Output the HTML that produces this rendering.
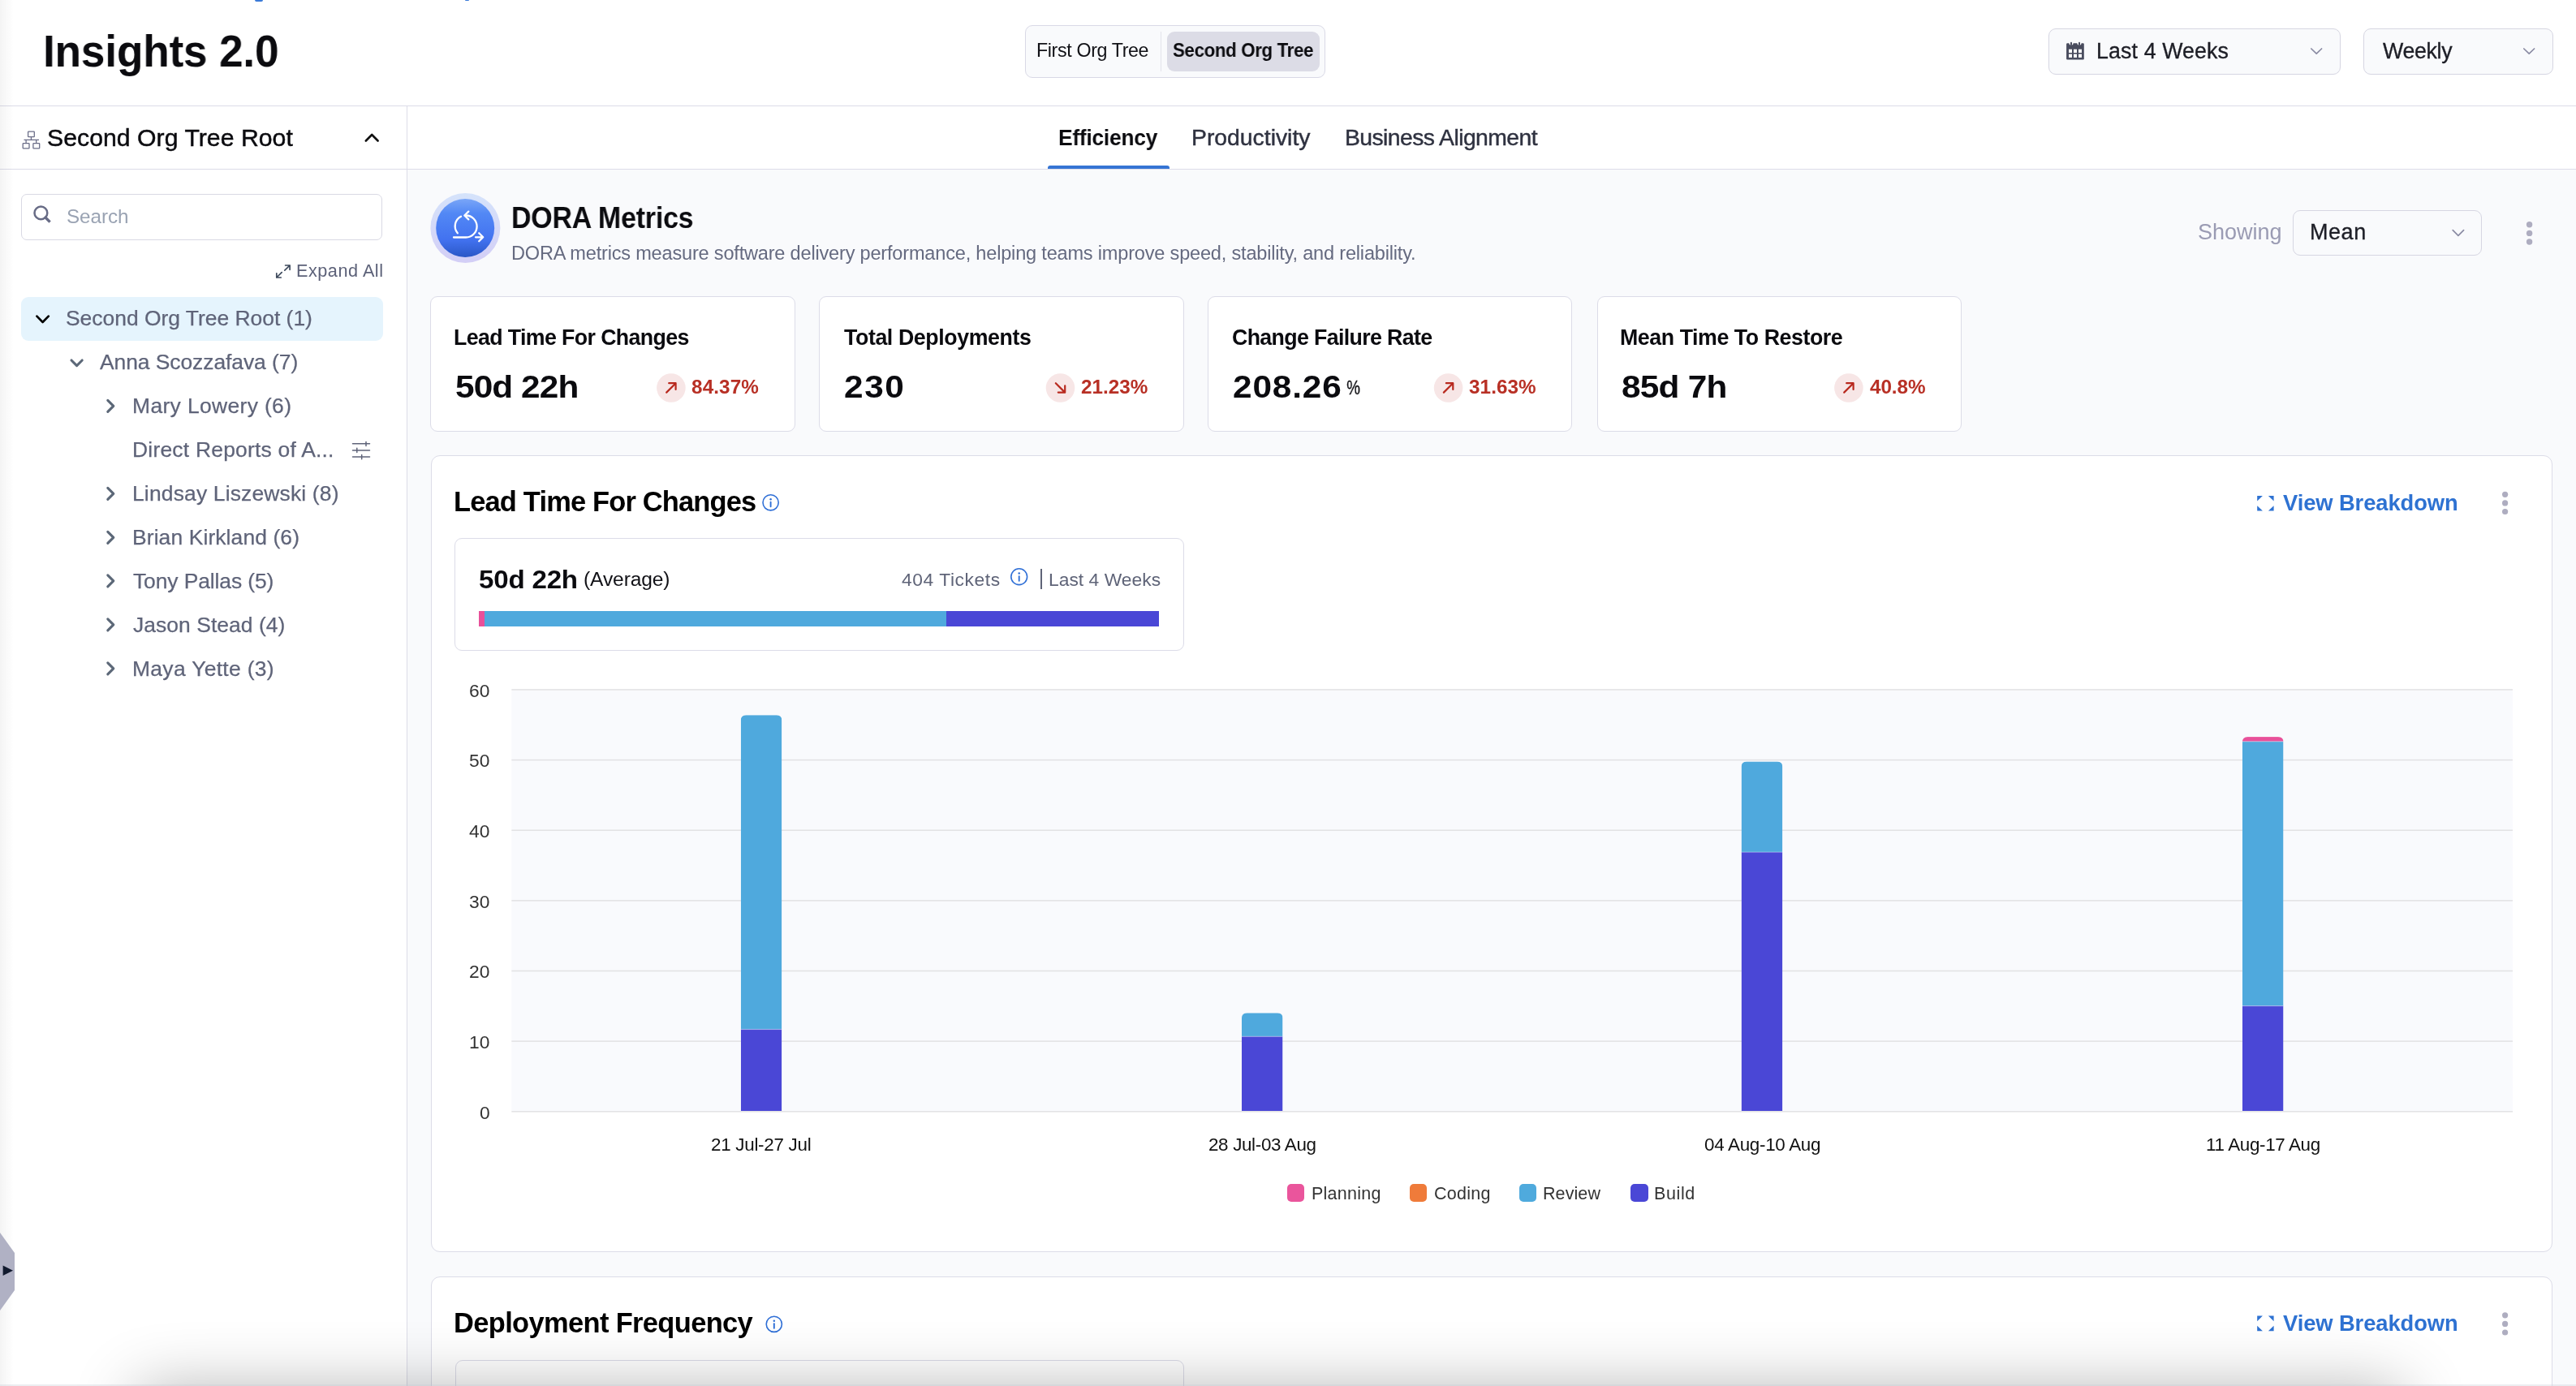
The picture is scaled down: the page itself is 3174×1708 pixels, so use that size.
<!DOCTYPE html>
<html><head><meta charset="utf-8"><style>
html,body{margin:0;padding:0;}
body{width:3174px;height:1708px;overflow:hidden;background:#fff;font-family:"Liberation Sans",sans-serif;}
#root{position:relative;width:3174px;height:1708px;overflow:hidden;background:#fff;}
.t{position:absolute;white-space:nowrap;line-height:1;will-change:transform;}
.r{position:absolute;}
svg.r{overflow:visible;}
</style></head><body><div id="root">
<div class="r" style="left:502.00px;top:209.00px;width:2672.00px;height:1499.00px;background:#f9fafc;"></div>
<div class="r" style="left:0.00px;top:130.00px;width:3174.00px;height:1.00px;background:#dcdce8;"></div>
<div class="r" style="left:0.00px;top:208.00px;width:3174.00px;height:1.00px;background:#dcdce8;"></div>
<div class="r" style="left:501.00px;top:131.00px;width:1.00px;height:1577.00px;background:#dcdce8;"></div>
<div class="r" style="left:0.00px;top:0.00px;width:17.00px;height:1708.00px;background:linear-gradient(to right,rgba(0,0,0,0.045),rgba(0,0,0,0));"></div>
<div class="r" style="left:314.40px;top:0.00px;width:9.40px;height:1.60px;background:#3a7ad8;border-radius:0 0 5px 5px;"></div>
<div class="r" style="left:573.00px;top:0.00px;width:4.60px;height:1.20px;background:#3a7ad8;border-radius:0 0 3px 3px;"></div>
<div class="t " style="left:53.44px;top:34.57px;font-size:55.96px;font-weight:700;letter-spacing:-0.182px;transform:scaleX(0.95);transform-origin:0 0;color:#0b0b0f;">Insights 2.0</div>
<div class="r" style="left:1262.50px;top:31.00px;width:370.50px;height:64.50px;background:#f9fafc;border:1px solid #d9d9e6;border-radius:9px;box-sizing:border-box;"></div>
<div class="r" style="left:1430.00px;top:39.00px;width:1.00px;height:49.00px;background:#e2e2ea;"></div>
<div class="r" style="left:1438.00px;top:39.00px;width:188.00px;height:49.00px;background:#dcdce6;border-radius:9px;"></div>
<div class="t " style="left:1276.85px;top:50.76px;font-size:23.26px;letter-spacing:-0.373px;color:#111116;">First Org Tree</div>
<div class="t " style="left:1444.78px;top:50.76px;font-size:23.26px;font-weight:700;letter-spacing:-0.384px;transform:scaleX(0.96);transform-origin:0 0;color:#0b0b0f;">Second Org Tree</div>
<div class="r" style="left:2524.30px;top:35.30px;width:359.30px;height:56.30px;background:#f9fafc;border:1px solid #d6d6e2;border-radius:9px;box-sizing:border-box;"></div>
<div class="r" style="left:2912.00px;top:35.30px;width:233.50px;height:56.30px;background:#f9fafc;border:1px solid #d6d6e2;border-radius:9px;box-sizing:border-box;"></div>
<div class="t " style="left:2582.75px;top:49.81px;font-size:26.74px;letter-spacing:0.136px;color:#1d1e26;-webkit-text-stroke:0.35px #1d1e26;">Last 4 Weeks</div>
<div class="t " style="left:2935.60px;top:49.81px;font-size:26.74px;letter-spacing:-0.320px;color:#1d1e26;-webkit-text-stroke:0.35px #1d1e26;">Weekly</div>
<svg class="r" style="left:2545px;top:51px" width="24" height="24" viewBox="2545 51 24 24">
<path d="M2546.1 54.5 Q2546.1 53.2 2547.4 53.2 H2566.5 Q2567.8 53.2 2567.8 54.5 V72.2 Q2567.8 73.5 2566.5 73.5 H2547.4 Q2546.1 73.5 2546.1 72.2 Z" fill="#494c5e"/>
<rect x="2549" y="60.7" width="4" height="4.3" fill="#fff"/><rect x="2555" y="60.7" width="4" height="4.3" fill="#fff"/><rect x="2561" y="60.7" width="4" height="4.3" fill="#fff"/>
<rect x="2549" y="66.6" width="4" height="4.3" fill="#fff"/><rect x="2555" y="66.6" width="4" height="4.3" fill="#fff"/><rect x="2561" y="66.6" width="4" height="4.3" fill="#fff"/>
<circle cx="2552" cy="53" r="2.6" fill="#f9fafc"/><circle cx="2562" cy="53" r="2.6" fill="#f9fafc"/>
<rect x="2551" y="51.8" width="2" height="4.2" rx="1" fill="#494c5e"/><rect x="2561" y="51.8" width="2" height="4.2" rx="1" fill="#494c5e"/>
</svg>
<svg class="r" style="left:0;top:0" width="3174" height="140" viewBox="0 0 3174 140">
<path d="M2847.8 60 L2854.2 66.2 L2860.6 60" fill="none" stroke="#8a8ba3" stroke-width="1.7" stroke-linecap="round" stroke-linejoin="round"/>
<path d="M3109.8 60 L3116.2 66.2 L3122.6 60" fill="none" stroke="#8a8ba3" stroke-width="1.7" stroke-linecap="round" stroke-linejoin="round"/>
</svg>
<div class="t " style="left:58.25px;top:155.05px;font-size:30.23px;letter-spacing:0.026px;color:#0b0b0f;-webkit-text-stroke:0.45px #0b0b0f;">Second Org Tree Root</div>
<div class="r" style="left:26.20px;top:238.50px;width:445.10px;height:57.10px;background:#fff;border:1px solid #d9d9e4;border-radius:7px;box-sizing:border-box;"></div>
<div class="t " style="left:81.80px;top:254.90px;font-size:24.27px;letter-spacing:-0.060px;color:#9aa3b3;">Search</div>
<div class="t " style="left:364.65px;top:322.51px;font-size:21.66px;letter-spacing:0.517px;color:#5c6178;">Expand All</div>
<div class="r" style="left:26.20px;top:366.10px;width:445.50px;height:53.50px;background:#e5f4fd;border-radius:9px;"></div>
<div class="t " style="left:80.55px;top:378.55px;font-size:26.45px;letter-spacing:-0.013px;color:#5f6479;-webkit-text-stroke:0.25px #5f6479;">Second Org Tree Root (1)</div>
<div class="t " style="left:123.00px;top:433.05px;font-size:26.45px;letter-spacing:-0.067px;color:#5f6479;-webkit-text-stroke:0.25px #5f6479;">Anna Scozzafava (7)</div>
<div class="t " style="left:162.50px;top:487.05px;font-size:26.45px;letter-spacing:0.357px;color:#5f6479;-webkit-text-stroke:0.25px #5f6479;">Mary Lowery (6)</div>
<div class="t " style="left:162.50px;top:541.05px;font-size:26.45px;letter-spacing:0.217px;color:#5f6479;-webkit-text-stroke:0.25px #5f6479;">Direct Reports of A...</div>
<div class="t " style="left:162.50px;top:595.05px;font-size:26.45px;letter-spacing:0.163px;color:#5f6479;-webkit-text-stroke:0.25px #5f6479;">Lindsay Liszewski (8)</div>
<div class="t " style="left:162.50px;top:649.05px;font-size:26.45px;letter-spacing:0.103px;color:#5f6479;-webkit-text-stroke:0.25px #5f6479;">Brian Kirkland (6)</div>
<div class="t " style="left:164.00px;top:702.65px;font-size:26.45px;letter-spacing:-0.107px;color:#5f6479;-webkit-text-stroke:0.25px #5f6479;">Tony Pallas (5)</div>
<div class="t " style="left:164.00px;top:756.65px;font-size:26.45px;letter-spacing:0.054px;color:#5f6479;-webkit-text-stroke:0.25px #5f6479;">Jason Stead (4)</div>
<div class="t " style="left:162.50px;top:810.55px;font-size:26.45px;letter-spacing:0.323px;color:#5f6479;-webkit-text-stroke:0.25px #5f6479;">Maya Yette (3)</div>
<svg class="r" style="left:0;top:480" width="502" height="380" viewBox="0 480 502 380"><path d="M132.8 493.3 L139.8 500.3 L132.8 507.3" fill="none" stroke="#5c6878" stroke-width="3.1" stroke-linecap="round" stroke-linejoin="round"/><path d="M132.8 601.3 L139.8 608.3 L132.8 615.3" fill="none" stroke="#5c6878" stroke-width="3.1" stroke-linecap="round" stroke-linejoin="round"/><path d="M132.8 655.3 L139.8 662.3 L132.8 669.3" fill="none" stroke="#5c6878" stroke-width="3.1" stroke-linecap="round" stroke-linejoin="round"/><path d="M132.8 708.9 L139.8 715.9 L132.8 722.9" fill="none" stroke="#5c6878" stroke-width="3.1" stroke-linecap="round" stroke-linejoin="round"/><path d="M132.8 762.9 L139.8 769.9 L132.8 776.9" fill="none" stroke="#5c6878" stroke-width="3.1" stroke-linecap="round" stroke-linejoin="round"/><path d="M132.8 816.8 L139.8 823.8 L132.8 830.8" fill="none" stroke="#5c6878" stroke-width="3.1" stroke-linecap="round" stroke-linejoin="round"/><g stroke="#5f6479" stroke-width="1.5" stroke-linecap="round">
<path d="M434.5 546.7 H455.5 M434.5 554.9 H455.5 M434.5 563.1 H455.5"/>
<path d="M451 544.4 V549.5 M439.8 552.2 V557.5 M445.7 560.5 V565.8"/>
</g></svg>
<svg class="r" style="left:0;top:140" width="502" height="720" viewBox="0 140 502 720">
<g fill="none" stroke="#6b6e88" stroke-width="1.3">
<rect x="34.6" y="162.1" width="7.7" height="6.6" rx="0.6"/>
<path d="M38.45 168.7 V172.4 M29.5 172.4 H48 M32.1 172.4 V176.6 M44.7 172.4 V176.6"/>
<rect x="28.2" y="176.6" width="7.8" height="6.3" rx="0.6"/>
<rect x="40.9" y="176.6" width="7.8" height="6.3" rx="0.6"/>
</g>
<path d="M450.8 173.5 L458.2 166 L465.6 173.5" fill="none" stroke="#111" stroke-width="2.6" stroke-linecap="round" stroke-linejoin="round"/>
<g fill="none" stroke="#686c86" stroke-width="2.5">
<circle cx="50.4" cy="262.4" r="7.9"/>
<path d="M56.2 268.2 L60.4 272.4" stroke-linecap="square" stroke-width="3.4"/>
</g>
<g fill="none" stroke="#3e4a5c" stroke-width="1.7" stroke-linecap="round" stroke-linejoin="round">
<path d="M351.6 327 H357.1 V332.3 M357.1 327 L350.8 333.2"/>
<path d="M340.8 336.8 V342 H346.2 M340.8 342 L347.2 335.6"/>
</g>
<path d="M45.4 389.6 L52.6 397 L59.8 389.6" fill="none" stroke="#000" stroke-width="2.7" stroke-linecap="round" stroke-linejoin="round"/>
<path d="M88 444 L94.6 450.6 L101.2 444" fill="none" stroke="#5c6878" stroke-width="3.1" stroke-linecap="round" stroke-linejoin="round"/>
</svg>
<div class="t " style="left:1304.37px;top:155.05px;font-size:28.34px;font-weight:700;letter-spacing:-0.258px;transform:scaleX(0.93);transform-origin:0 0;color:#0b0b0f;">Efficiency</div>
<div class="t " style="left:1468.35px;top:155.05px;font-size:28.34px;color:#2f3240;-webkit-text-stroke:0.45px #2f3240;">Productivity</div>
<div class="t " style="left:1657.25px;top:155.05px;font-size:28.34px;letter-spacing:-0.571px;color:#2f3240;-webkit-text-stroke:0.45px #2f3240;">Business Alignment</div>
<div class="r" style="left:1290.80px;top:204.30px;width:150.20px;height:4.20px;background:#3574d4;border-radius:3px 3px 0 0;"></div>
<svg class="r" style="left:525px;top:233px" width="96" height="96" viewBox="525 233 96 96">
<defs>
<linearGradient id="ring" x1="0" y1="0" x2="0" y2="1"><stop offset="0" stop-color="#d5e3fb"/><stop offset="1" stop-color="#d3cef6"/></linearGradient>
<linearGradient id="core" x1="0" y1="0" x2="0" y2="1"><stop offset="0" stop-color="#7aa6f7"/><stop offset="0.25" stop-color="#5288f5"/><stop offset="0.7" stop-color="#4272f0"/><stop offset="1" stop-color="#2a57c6"/></linearGradient>
</defs>
<circle cx="573.4" cy="281" r="43" fill="url(#ring)"/>
<circle cx="573.2" cy="281" r="36" fill="url(#core)"/>
<g fill="none" stroke="#fff" stroke-width="2.3" stroke-linecap="round" stroke-linejoin="round">
<path d="M563.8 287.3 A13.5 13.5 0 0 1 568 266.7"/>
<path d="M574.1 265.5 A13.5 13.5 0 0 1 574.1 292.5 H559"/>
<path d="M577.3 260.6 L572.3 265.5 L577.3 270.4"/>
<path d="M586 292.3 H595 M590.2 287.3 L595.2 292.3 L590.2 297.3"/>
</g>
</svg>
<div class="t " style="left:630.18px;top:251.43px;font-size:36.05px;font-weight:700;letter-spacing:-0.195px;transform:scaleX(0.94);transform-origin:0 0;color:#0b0b0f;">DORA Metrics</div>
<div class="t " style="left:630.25px;top:300.51px;font-size:23.55px;letter-spacing:-0.192px;color:#656a80;">DORA metrics measure software delivery performance, helping teams improve speed, stability, and reliability.</div>
<div class="t " style="left:2707.75px;top:272.56px;font-size:27.03px;color:#9a9bb3;">Showing</div>
<div class="r" style="left:2825.30px;top:258.50px;width:233.20px;height:56.90px;background:#f9fafc;border:1px solid #d6d6e2;border-radius:9px;box-sizing:border-box;"></div>
<div class="t " style="left:2846.05px;top:272.56px;font-size:27.03px;letter-spacing:0.533px;color:#1d1e26;-webkit-text-stroke:0.35px #1d1e26;">Mean</div>
<svg class="r" style="left:3010px;top:265px" width="120" height="45" viewBox="3010 265 120 45">
<path d="M3022.2 283.6 L3028.9 290.3 L3035.6 283.6" fill="none" stroke="#8a8ba3" stroke-width="1.7" stroke-linecap="round" stroke-linejoin="round"/>
<circle cx="3116.6" cy="276.8" r="3.7" fill="#aeadc0"/><circle cx="3116.6" cy="287.4" r="3.7" fill="#aeadc0"/><circle cx="3116.6" cy="298" r="3.7" fill="#aeadc0"/>
</svg>
<div class="r" style="left:530.30px;top:365.10px;width:449.30px;height:167.40px;background:#fff;border:1px solid #dcdce8;border-radius:9px;box-sizing:border-box;"></div>
<div class="t " style="left:559.05px;top:402.51px;font-size:26.74px;font-weight:700;letter-spacing:-0.607px;color:#0b0b0f;">Lead Time For Changes</div>
<div class="t " style="left:560.92px;top:457.54px;font-size:38.52px;font-weight:700;letter-spacing:-0.833px;transform:scaleX(1.1);transform-origin:0 0;color:#0b0b0f;">50d 22h</div>
<div class="t " style="left:852.11px;top:465.78px;font-size:23.11px;font-weight:700;letter-spacing:0.124px;transform:scaleX(1.05);transform-origin:0 0;color:#b83025;">84.37%</div>
<div class="r" style="left:1009.30px;top:365.10px;width:449.30px;height:167.40px;background:#fff;border:1px solid #dcdce8;border-radius:9px;box-sizing:border-box;"></div>
<div class="t " style="left:1039.55px;top:402.51px;font-size:26.74px;font-weight:700;letter-spacing:-0.397px;color:#0b0b0f;">Total Deployments</div>
<div class="t " style="left:1039.92px;top:457.54px;font-size:38.52px;font-weight:700;letter-spacing:1.432px;transform:scaleX(1.1);transform-origin:0 0;color:#0b0b0f;">230</div>
<div class="t " style="left:1331.71px;top:465.78px;font-size:23.11px;font-weight:700;transform:scaleX(1.05);transform-origin:0 0;color:#b83025;">21.23%</div>
<div class="r" style="left:1488.00px;top:365.10px;width:449.30px;height:167.40px;background:#fff;border:1px solid #dcdce8;border-radius:9px;box-sizing:border-box;"></div>
<div class="t " style="left:1517.50px;top:402.51px;font-size:26.74px;font-weight:700;letter-spacing:-0.636px;color:#0b0b0f;">Change Failure Rate</div>
<div class="t " style="left:1518.62px;top:457.54px;font-size:38.52px;font-weight:700;letter-spacing:0.750px;transform:scaleX(1.1);transform-origin:0 0;color:#0b0b0f;">208.26</div>
<div class="t " style="left:1810.07px;top:465.78px;font-size:23.11px;font-weight:700;letter-spacing:0.074px;transform:scaleX(1.05);transform-origin:0 0;color:#b83025;">31.63%</div>
<div class="r" style="left:1967.50px;top:365.10px;width:449.30px;height:167.40px;background:#fff;border:1px solid #dcdce8;border-radius:9px;box-sizing:border-box;"></div>
<div class="t " style="left:1996.25px;top:402.51px;font-size:26.74px;font-weight:700;letter-spacing:-0.424px;color:#0b0b0f;">Mean Time To Restore</div>
<div class="t " style="left:1998.12px;top:457.54px;font-size:38.52px;font-weight:700;letter-spacing:-0.700px;transform:scaleX(1.1);transform-origin:0 0;color:#0b0b0f;">85d 7h</div>
<div class="t " style="left:2303.64px;top:465.78px;font-size:23.11px;font-weight:700;letter-spacing:-0.068px;transform:scaleX(1.05);transform-origin:0 0;color:#b83025;">40.8%</div>
<svg class="r" style="left:0;top:440px" width="3174" height="80" viewBox="0 440 3174 80"><circle cx="826.9" cy="478" r="17.8" fill="#f7e6e6"/><path d="M821.2 483.6 L832.6 472.2 M824.2 472.2 H832.6 V480" fill="none" stroke="#b8291e" stroke-width="2.2" stroke-linecap="round" stroke-linejoin="round"/><circle cx="1306.5" cy="478" r="17.8" fill="#f7e6e6"/><path d="M1300.8 472.2 L1312.2 483.6 M1303.8 483.6 H1312.2 V475.3" fill="none" stroke="#b8291e" stroke-width="2.2" stroke-linecap="round" stroke-linejoin="round"/><circle cx="1784.6" cy="478" r="17.8" fill="#f7e6e6"/><path d="M1778.9 483.6 L1790.3 472.2 M1781.9 472.2 H1790.3 V480" fill="none" stroke="#b8291e" stroke-width="2.2" stroke-linecap="round" stroke-linejoin="round"/><circle cx="2277.9" cy="478" r="17.8" fill="#f7e6e6"/><path d="M2272.2 483.6 L2283.6 472.2 M2275.2 472.2 H2283.6 V480" fill="none" stroke="#b8291e" stroke-width="2.2" stroke-linecap="round" stroke-linejoin="round"/></svg>
<div class="t " style="left:1659.25px;top:466.13px;font-size:24px;color:#0b0b0f;-webkit-text-stroke:0.3px #0b0b0f;transform:scaleX(0.78);transform-origin:1px 0;">%</div>
<div class="r" style="left:530.70px;top:561.30px;width:2613.90px;height:981.70px;background:#fff;border:1px solid #dcdce8;border-radius:11px;box-sizing:border-box;"></div>
<div class="t " style="left:558.55px;top:601.28px;font-size:34.45px;font-weight:700;letter-spacing:-0.828px;color:#000;">Lead Time For Changes</div>
<div class="t " style="left:2813.35px;top:605.51px;font-size:27.33px;font-weight:700;letter-spacing:-0.081px;color:#2e72d2;">View Breakdown</div>
<svg class="r" style="left:0;top:590px" width="3174" height="60" viewBox="0 590 3174 60">
<circle cx="949.6" cy="619.3" r="9.6" fill="none" stroke="#2f6fd6" stroke-width="1.6"/><circle cx="949.6" cy="615.2" r="1.25" fill="#2f6fd6"/><path d="M949.6 618.7 V624.3" stroke="#2f6fd6" stroke-width="1.9" stroke-linecap="round"/><path d="M2781.2 610.9 H2787.8999999999996 L2781.2 617.6 Z M2801.6 610.9 H2794.8999999999996 L2801.6 617.6 Z M2781.2 629.6 V623.1999999999999 L2787.8999999999996 629.6 Z M2801.6 629.6 V623.1999999999999 L2794.8999999999996 629.6 Z" fill="#2e72d2"/><circle cx="3086.6" cy="609.3" r="3.6" fill="#aeadc0"/><circle cx="3086.6" cy="619.9" r="3.6" fill="#aeadc0"/><circle cx="3086.6" cy="630.5" r="3.6" fill="#aeadc0"/>
</svg>
<div class="r" style="left:560.10px;top:663.10px;width:899.20px;height:138.50px;background:#fff;border:1px solid #dcdce8;border-radius:9px;box-sizing:border-box;"></div>
<div class="t " style="left:590.35px;top:699.25px;font-size:31.54px;font-weight:700;letter-spacing:-0.194px;transform:scaleX(1.05);transform-origin:0 0;color:#0b0b0f;">50d 22h</div>
<div class="t " style="left:718.80px;top:702.46px;font-size:24.56px;letter-spacing:-0.100px;color:#111116;">(Average)</div>
<div class="t " style="left:1110.70px;top:702.83px;font-size:22.82px;letter-spacing:0.580px;color:#5f6478;">404 Tickets</div>
<div class="t " style="left:1292.25px;top:702.83px;font-size:22.82px;letter-spacing:0.023px;color:#5f6478;">Last 4 Weeks</div>
<div class="r" style="left:1282.30px;top:701.00px;width:2.00px;height:25.40px;background:#5f6478;"></div>
<div class="r" style="left:590.20px;top:753.00px;width:7.00px;height:18.80px;background:#e8509a;"></div>
<div class="r" style="left:597.20px;top:753.00px;width:568.60px;height:18.80px;background:#4fa9dd;"></div>
<div class="r" style="left:1165.80px;top:753.00px;width:262.70px;height:18.80px;background:#4a47d6;"></div>
<svg class="r" style="left:1240px;top:695px" width="32" height="32" viewBox="1240 695 32 32">
<circle cx="1255.7" cy="710.7" r="9.9" fill="none" stroke="#2f6fd6" stroke-width="1.6"/><circle cx="1255.7" cy="706.6" r="1.25" fill="#2f6fd6"/><path d="M1255.7 710.1 V715.7" stroke="#2f6fd6" stroke-width="1.9" stroke-linecap="round"/>
</svg>
<svg class="r" style="left:0;top:800px" width="3174" height="700" viewBox="0 800 3174 700"><rect x="630.3" y="849.9" width="2465.7" height="519.9" fill="#f9fafd"/><rect x="630.3" y="1369.05" width="2465.7" height="1.5" fill="#e2e2e4"/><rect x="630.3" y="1282.40" width="2465.7" height="1.5" fill="#e2e2e4"/><rect x="630.3" y="1195.75" width="2465.7" height="1.5" fill="#e2e2e4"/><rect x="630.3" y="1109.10" width="2465.7" height="1.5" fill="#e2e2e4"/><rect x="630.3" y="1022.45" width="2465.7" height="1.5" fill="#e2e2e4"/><rect x="630.3" y="935.80" width="2465.7" height="1.5" fill="#e2e2e4"/><rect x="630.3" y="849.15" width="2465.7" height="1.5" fill="#e2e2e4"/><clipPath id="bc1"><path d="M912.8 1369 V887.7 Q912.8 881.2 919.3 881.2 H956.8 Q963.3 881.2 963.3 887.7 V1369 Z"/></clipPath><g clip-path="url(#bc1)"><rect x="912.8" y="881.2" width="50.50" height="387.30" fill="#4fa9dd"/><rect x="912.8" y="1268.5" width="50.50" height="100.50" fill="#4a47d6"/><rect x="912.8" y="1267.90" width="50.50" height="1.2" fill="rgba(255,255,255,0.3)"/></g><clipPath id="bc2"><path d="M1530 1369 V1254.8 Q1530 1248.3 1536.5 1248.3 H1574.0 Q1580.5 1248.3 1580.5 1254.8 V1369 Z"/></clipPath><g clip-path="url(#bc2)"><rect x="1530" y="1248.3" width="50.50" height="29.00" fill="#4fa9dd"/><rect x="1530" y="1277.3" width="50.50" height="91.70" fill="#4a47d6"/><rect x="1530" y="1276.70" width="50.50" height="1.2" fill="rgba(255,255,255,0.3)"/></g><clipPath id="bc3"><path d="M2145.6 1369 V944.9 Q2145.6 938.4 2152.1 938.4 H2189.8 Q2196.3 938.4 2196.3 944.9 V1369 Z"/></clipPath><g clip-path="url(#bc3)"><rect x="2145.6" y="938.4" width="50.70" height="111.70" fill="#4fa9dd"/><rect x="2145.6" y="1050.1" width="50.70" height="318.90" fill="#4a47d6"/><rect x="2145.6" y="1049.50" width="50.70" height="1.2" fill="rgba(255,255,255,0.3)"/></g><clipPath id="bc4"><path d="M2763 1369 V914.6 Q2763 908.1 2769.5 908.1 H2807.0 Q2813.5 908.1 2813.5 914.6 V1369 Z"/></clipPath><g clip-path="url(#bc4)"><rect x="2763" y="908.1" width="50.50" height="5.70" fill="#e8509a"/><rect x="2763" y="913.8" width="50.50" height="325.80" fill="#4fa9dd"/><rect x="2763" y="913.20" width="50.50" height="1.2" fill="rgba(255,255,255,0.3)"/><rect x="2763" y="1239.6" width="50.50" height="129.40" fill="#4a47d6"/><rect x="2763" y="1239.00" width="50.50" height="1.2" fill="rgba(255,255,255,0.3)"/></g></svg>
<div class="t " style="left:578.00px;top:839.65px;font-size:22.8px;color:#333;">60</div>
<div class="t " style="left:578.00px;top:926.30px;font-size:22.8px;color:#333;">50</div>
<div class="t " style="left:578.00px;top:1012.95px;font-size:22.8px;color:#333;">40</div>
<div class="t " style="left:578.00px;top:1099.60px;font-size:22.8px;color:#333;">30</div>
<div class="t " style="left:578.00px;top:1186.25px;font-size:22.8px;color:#333;">20</div>
<div class="t " style="left:578.00px;top:1272.90px;font-size:22.8px;color:#333;">10</div>
<div class="t " style="left:590.75px;top:1359.55px;font-size:22.8px;color:#333;">0</div>
<div class="t " style="left:876.40px;top:1399.80px;font-size:22.38px;letter-spacing:-0.267px;color:#111;">21 Jul-27 Jul</div>
<div class="t " style="left:1488.95px;top:1399.80px;font-size:22.38px;letter-spacing:-0.325px;color:#111;">28 Jul-03 Aug</div>
<div class="t " style="left:2099.95px;top:1399.80px;font-size:22.38px;letter-spacing:-0.279px;color:#111;">04 Aug-10 Aug</div>
<div class="t " style="left:2717.50px;top:1399.80px;font-size:22.38px;letter-spacing:-0.333px;color:#111;">11 Aug-17 Aug</div>
<div class="r" style="left:1585.80px;top:1459.30px;width:21.60px;height:21.30px;background:#ea559c;border-radius:5px;"></div>
<div class="t " style="left:1615.85px;top:1461.04px;font-size:21.51px;letter-spacing:0.243px;color:#333;">Planning</div>
<div class="r" style="left:1736.70px;top:1459.30px;width:21.60px;height:21.30px;background:#ef7b3a;border-radius:5px;"></div>
<div class="t " style="left:1767.00px;top:1461.04px;font-size:21.51px;letter-spacing:0.250px;color:#333;">Coding</div>
<div class="r" style="left:1871.70px;top:1459.30px;width:21.60px;height:21.30px;background:#4faadd;border-radius:5px;"></div>
<div class="t " style="left:1901.45px;top:1461.04px;font-size:21.51px;letter-spacing:0.090px;color:#333;">Review</div>
<div class="r" style="left:2009.00px;top:1459.30px;width:21.60px;height:21.30px;background:#4a47d6;border-radius:5px;"></div>
<div class="t " style="left:2038.25px;top:1461.04px;font-size:21.51px;letter-spacing:0.625px;color:#333;">Build</div>
<div class="r" style="left:530.70px;top:1573.20px;width:2613.90px;height:186.80px;background:#fff;border:1px solid #dcdce8;border-radius:11px;box-sizing:border-box;"></div>
<div class="t " style="left:558.95px;top:1613.28px;font-size:34.45px;font-weight:700;letter-spacing:-0.637px;color:#000;">Deployment Frequency</div>
<div class="r" style="left:560.50px;top:1675.90px;width:898.80px;height:124.10px;background:#fff;border:1px solid #dcdce8;border-radius:9px;box-sizing:border-box;"></div>
<svg class="r" style="left:0;top:1600px" width="3174" height="60" viewBox="0 1600 3174 60">
<circle cx="953.8" cy="1631.8" r="9.6" fill="none" stroke="#2f6fd6" stroke-width="1.6"/><circle cx="953.8" cy="1627.7" r="1.25" fill="#2f6fd6"/><path d="M953.8 1631.2 V1636.8" stroke="#2f6fd6" stroke-width="1.9" stroke-linecap="round"/><path d="M2781.2 1621.5 H2787.8999999999996 L2781.2 1628.2 Z M2801.6 1621.5 H2794.8999999999996 L2801.6 1628.2 Z M2781.2 1640.2 V1633.8 L2787.8999999999996 1640.2 Z M2801.6 1640.2 V1633.8 L2794.8999999999996 1640.2 Z" fill="#2e72d2"/><circle cx="3086.6" cy="1620.8000000000002" r="3.6" fill="#aeadc0"/><circle cx="3086.6" cy="1631.4" r="3.6" fill="#aeadc0"/><circle cx="3086.6" cy="1642.0" r="3.6" fill="#aeadc0"/>
</svg>
<div class="t " style="left:2813.35px;top:1617.31px;font-size:27.33px;font-weight:700;letter-spacing:-0.081px;color:#2e72d2;">View Breakdown</div>
<svg class="r" style="left:0;top:1515px" width="24" height="104" viewBox="0 1515 24 104">
<path d="M0 1519 L18 1544 V1590 L0 1615 Z" fill="#b0b1c4"/>
<path d="M3.6 1559.5 L16 1565.8 L3.6 1572 Z" fill="#111a2e"/>
</svg>
<div class="r" style="left:170.00px;top:1712.00px;width:2790.00px;height:188.00px;background:rgba(0,0,0,0.3);box-shadow:0 0 80px 0 rgba(0,0,0,0.3);"></div>
<div class="r" style="left:0.00px;top:1706.00px;width:3174.00px;height:2.00px;background:rgba(200,205,215,0.35);"></div>
</div></body></html>
